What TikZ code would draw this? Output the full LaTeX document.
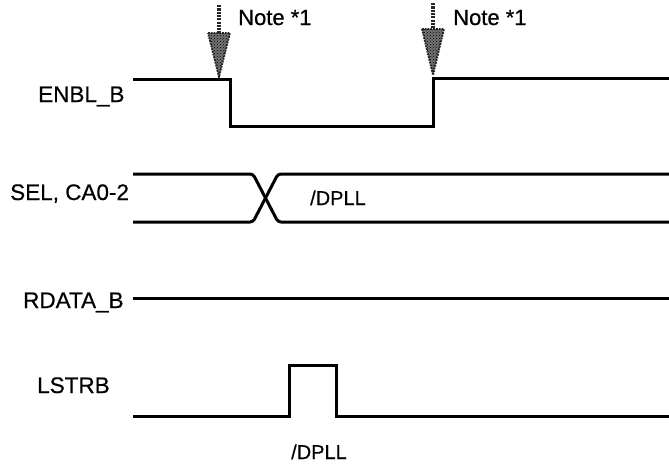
\documentclass[tikz,border=0pt]{standalone}
\usepackage{fontspec}
\setmainfont{Liberation Sans}
\newfontfamily\scanfont[FakeBold=0.5]{Liberation Sans}
\usetikzlibrary{patterns}
\tikzset{
  siglabel/.style={anchor=base west, inner sep=0pt, font=\scanfont\fontsize{22.5}{26}\selectfont},
  notelabel/.style={anchor=base west, inner sep=0pt, font=\scanfont\fontsize{22}{26}\selectfont},
  dplllabel/.style={anchor=base west, inner sep=0pt, font=\scanfont\fontsize{20}{24}\selectfont},
  wave/.style={line width=3pt, line join=miter, black},
  notearrowshaft/.style={line width=3.4pt, black!85, dash pattern=on 2.2pt off 1.1pt},
  notearrowhead/.style={fill=black!55, draw=black!85, line width=1.8pt, densely dotted,
    postaction={pattern=crosshatch dots, pattern color=black}},
}
\begin{document}
\begin{tikzpicture}[x=1pt,y=-1pt]
\useasboundingbox (0,0) rectangle (669,466);

% labels
\node[siglabel] (enbl) at (38,102) {ENBL\_B};
\node[siglabel] (sel) at (10,200) {SEL, CA0-2};
\node[siglabel] (rdata) at (23,308) {RDATA\_B};
\node[siglabel] (lstrb) at (37,393) {LSTRB};
\node[notelabel] (note1) at (238,25) {Note *1};
\node[notelabel] (note2) at (453,25) {Note *1};
\node[dplllabel] (dpll1) at (310,205) {/DPLL};
\node[dplllabel] (dpll2) at (291,459) {/DPLL};

% ENBL_B
\draw[wave] (133,79) -- (230,79) -- (230,126) -- (433,126) -- (433,78) -- (669,78);

% SEL, CA0-2
\draw[wave, rounded corners=3pt] (133,174) -- (253,174) -- (278,222) -- (669,222);
\draw[wave, rounded corners=3pt] (133,222) -- (253,222) -- (278,174) -- (669,174);

% RDATA_B
\draw[wave] (133,298) -- (669,298);

% LSTRB
\draw[wave] (133,416) -- (289,416) -- (289,365) -- (336,365) -- (336,416) -- (669,416);

% Note arrows
\coordinate (a1top) at (219,5);
\coordinate (a1base) at (219,33);
\coordinate (a1tip) at (219,77);
\draw[notearrowshaft] (a1top) -- (a1base);
\draw[notearrowhead] ([xshift=-11pt]a1base) -- ([xshift=11pt]a1base) -- (a1tip) -- cycle;

\coordinate (a2top) at (433,3);
\coordinate (a2base) at (433,29);
\coordinate (a2tip) at (433,75);
\draw[notearrowshaft] (a2top) -- (a2base);
\draw[notearrowhead] ([xshift=-11pt]a2base) -- ([xshift=11pt]a2base) -- (a2tip) -- cycle;
\end{tikzpicture}
\end{document}
